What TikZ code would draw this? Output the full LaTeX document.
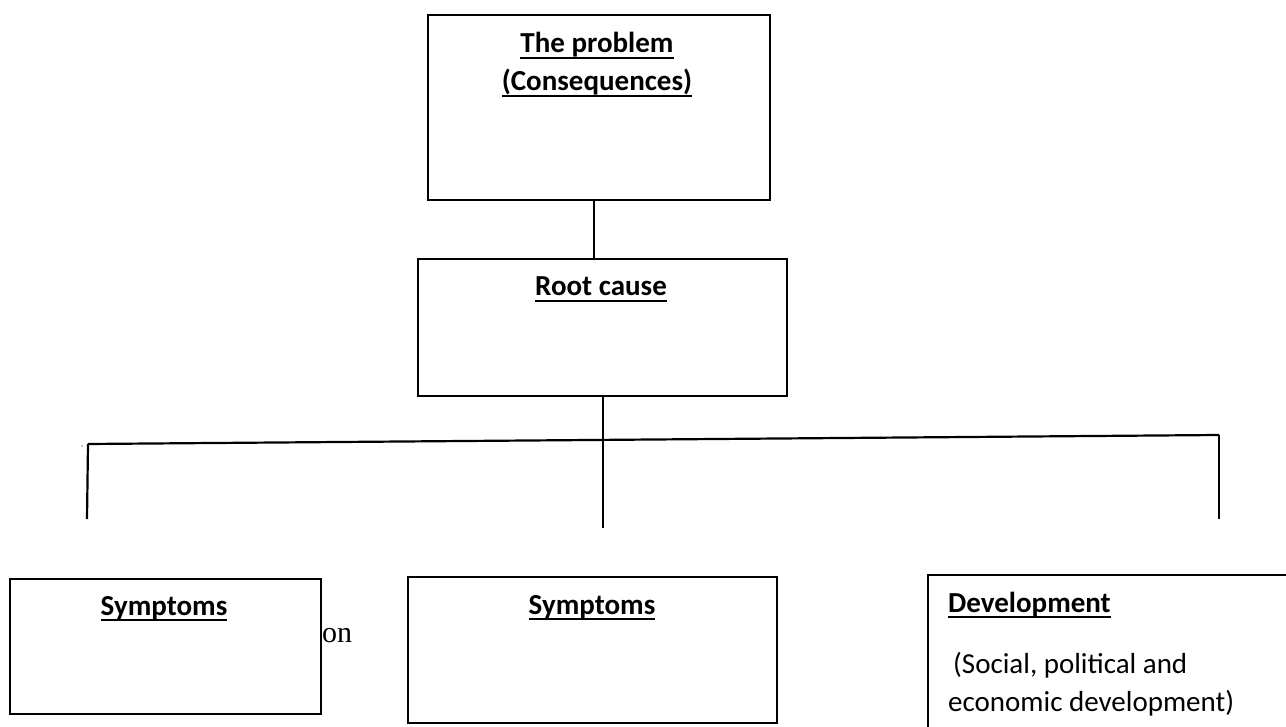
\documentclass[tikz,border=0pt]{standalone}
\usepackage{fontspec}
\setmainfont{Carlito}
\newfontfamily\onserif{Liberation Serif}
\newcommand\ulx[1]{\setbox0\hbox{#1}\rlap{\rule[-6pt]{\wd0}{2pt}}\box0}
\begin{document}
\begin{tikzpicture}[x=1pt,y=-1pt,
  box/.style={draw, line width=2pt, anchor=north west, inner sep=0pt},
  lbl/.style={anchor=base, inner sep=0pt, font=\fontsize{29}{35}\selectfont\bfseries},
  txt/.style={anchor=base west, inner sep=0pt, font=\fontsize{29}{35}\selectfont},
  conn/.style={line width=2.8pt},
  branch/.style={line width=2.2pt}]
\useasboundingbox (0,0) rectangle (1286,727);
\clip (0,0) rectangle (1286,727);
% boxes
\node[box, minimum width=342pt, minimum height=185pt] (top) at (427,14) {};
\node[lbl] (toptxt1) at (597,53) {\ulx{The problem}};
\node[lbl] (toptxt2) at (597,91) {\ulx{(Consequences)}};
\node[box, minimum width=369pt, minimum height=137pt] (root) at (417,258) {};
\node[lbl] (roottxt) at (601,296) {\ulx{Root cause}};
\node[box, minimum width=311pt, minimum height=135pt] (sym1) at (9,578) {};
\node[lbl] (sym1txt) at (164,615) {\ulx{Symptoms}};
\node[box, minimum width=369pt, minimum height=146pt] (sym2) at (407,576) {};
\node[lbl] (sym2txt) at (592,614) {\ulx{Symptoms}};
\node[box, minimum width=380pt, minimum height=180pt] (dev) at (927,574) {};
\node[lbl, anchor=base west] (devtxt) at (948,612) {\ulx{Development}};
\node[txt] (devl1) at (953,673) {(Social, political and};
\node[txt] (devl2) at (948,711) {economic development)};
\node[anchor=base west, inner sep=0pt, font=\onserif\fontsize{30}{36}\selectfont] (on) at (322,642) {on};
% connectors
\coordinate (hl) at (88,444);
\coordinate (hr) at (1219,435);
\coordinate (hm) at (603,528);
\coordinate (vl) at (87,519);
\coordinate (vr) at (1219,519);
\draw[conn] ([xshift=-5pt]top.south) -- ([xshift=-5pt]top.south |- root.north);
\draw[conn] (root.south -| hm) -- (hm);
\draw[branch] (hl) -- (hr);
\draw[branch] (hl) -- (vl);
\draw[branch] (hr) -- (vr);
\fill[gray] (82,446) circle (0.8pt);
\end{tikzpicture}
\end{document}
